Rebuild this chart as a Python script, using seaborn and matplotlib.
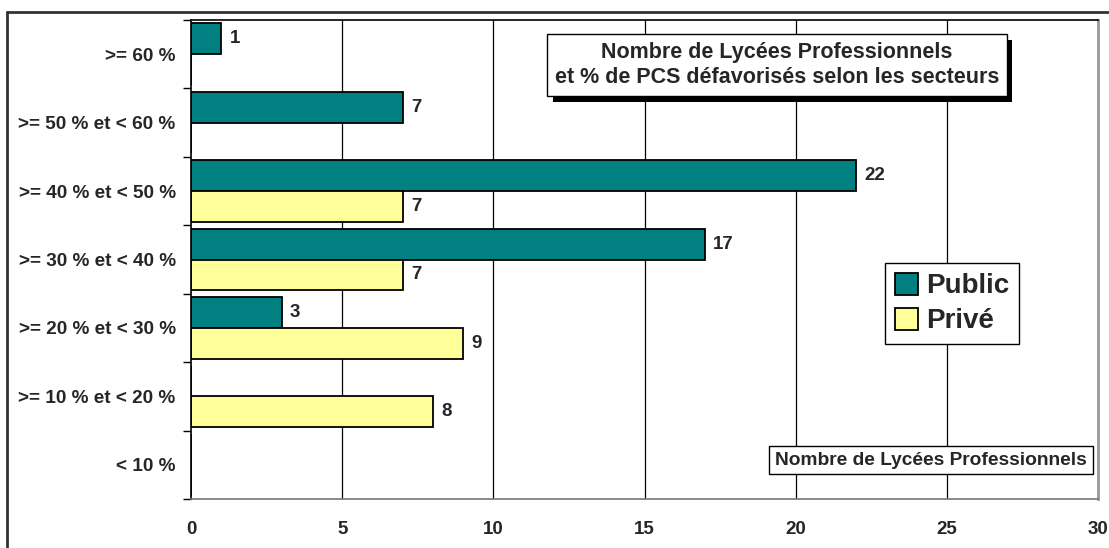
import pandas as pd
import numpy as np
import matplotlib
matplotlib.use("Agg")
import matplotlib.pyplot as plt
import matplotlib.patheffects as pe
from matplotlib.lines import Line2D
import seaborn as sns

# données
tranches = [">= 60 %", ">= 50 % et < 60 %", ">= 40 % et < 50 %", ">= 30 % et < 40 %",
            ">= 20 % et < 30 %", ">= 10 % et < 20 %", "< 10 %"]
public = [1, 7, 22, 17, 3, 0, 0]
prive = [0, 0, 7, 7, 9, 8, 0]
secteurs = ["Public", "Privé"]
x_ticks = [0, 5, 10, 15, 20, 25, 30]

df = pd.DataFrame({
    "tranche": tranches * 2,
    "secteur": ["Public"] * len(tranches) + ["Privé"] * len(tranches),
    "nombre": public + prive,
})

sns.set_style("white")
plt.rcParams['font.family'] = ['Liberation Sans', 'DejaVu Sans']
plt.rcParams['font.weight'] = 'bold'

fig = plt.figure(figsize=(11.09, 5.48), dpi=100)
ax = fig.add_axes([191 / 1109, 1 - 499 / 548, (1098 - 191) / 1109, (499 - 20) / 548])

sns.barplot(data=df, y="tranche", x="nombre", hue="secteur", order=tranches,
            hue_order=secteurs, orient="h", saturation=1,
            palette={"Public": "#008080", "Privé": "#FFFF99"},
            edgecolor="black", linewidth=1.3, width=0.9, ax=ax)

# étiquettes de valeurs
for cont in ax.containers:
    vals = [r.get_width() for r in cont]
    ax.bar_label(cont, labels=[f"{v:.0f}" if v > 0 else "" for v in vals],
                 padding=6, fontsize=13.5, fontweight="bold")

ax.set_xlim(0, 30)
ax.set_ylim(len(tranches) - 0.5, -0.5)
ax.set_xticks(x_ticks)
ax.set_xticklabels([str(t) for t in x_ticks], fontsize=13.5, fontweight="bold")
ax.set_yticklabels(tranches, fontsize=13.7, fontweight="bold")
ax.set_xlabel("")
ax.set_ylabel("")
ax.tick_params(axis="x", length=0, pad=16)
ax.tick_params(axis="y", which="major", length=0, pad=11)
ax.set_yticks(np.arange(-0.5, len(tranches), 1), minor=True)
ax.tick_params(axis="y", which="minor", length=6, width=1, color="black", direction="out", left=True)

for v in x_ticks[1:-1]:
    ax.axvline(v, color="black", lw=0.9, zorder=0)

for s in ["left", "bottom", "top"]:
    ax.spines[s].set_color("black")
    ax.spines[s].set_linewidth(1.2)
ax.spines["right"].set_color("#999999")
ax.spines["right"].set_linewidth(2)
ax.spines["bottom"].set_color("#777777")

# légende
ax.legend(loc="upper left", bbox_to_anchor=(0.765, 0.493), frameon=True, fancybox=False,
          edgecolor="black", framealpha=1, prop={"size": 20, "weight": "bold"},
          handlelength=0.85, handleheight=0.85, handletextpad=0.3, labelspacing=0.3,
          borderpad=0.35, borderaxespad=0)
ax.get_legend().get_frame().set_linewidth(1)

# titre encadré avec ombre
t = ax.text(0.646, 0.906, "Nombre de Lycées Professionnels\net % de PCS défavorisés selon les secteurs",
            transform=ax.transAxes, ha="center", va="center", fontsize=15.5, fontweight="bold",
            linespacing=1.3,
            bbox=dict(boxstyle="square,pad=0.35", facecolor="white", edgecolor="black", linewidth=1))
t.get_bbox_patch().set_path_effects([pe.withSimplePatchShadow(offset=(4, -4), shadow_rgbFace="black", alpha=1)])

# titre de l'axe des x encadré
ax.text(0.816, 0.081, "Nombre de Lycées Professionnels", transform=ax.transAxes,
        ha="center", va="center", fontsize=13.8, fontweight="bold",
        bbox=dict(boxstyle="square,pad=0.3", facecolor="white", edgecolor="black", linewidth=1))

# cadre extérieur
fig.add_artist(Line2D([7 / 1109, 1.0], [1 - 12 / 548, 1 - 12 / 548], color="#333333", lw=2,
                      transform=fig.transFigure))
fig.add_artist(Line2D([7 / 1109, 7 / 1109], [0, 1 - 12 / 548], color="#333333", lw=2,
                      transform=fig.transFigure))

fig.savefig("out.png", dpi=100)
